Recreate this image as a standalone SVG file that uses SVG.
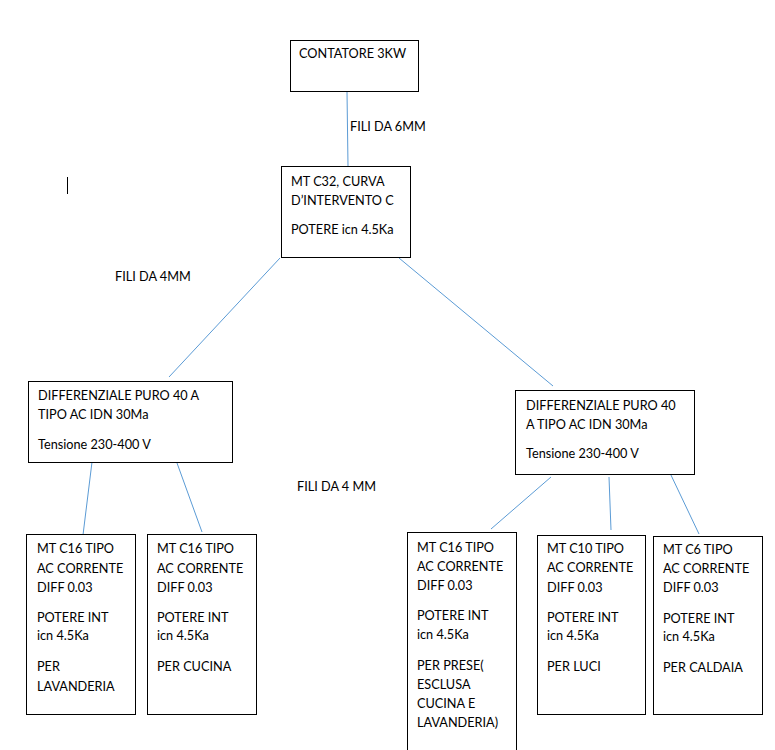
<svg xmlns="http://www.w3.org/2000/svg" width="775" height="750" viewBox="0 0 775 750">
<style>
.box{fill:#fff;stroke:#000;stroke-width:1}
.t{font-family:Lato,"Liberation Sans",sans-serif;font-size:12.7px;fill:#000}
.c{stroke:#5B9BD5;stroke-width:1;fill:none}
</style>
<rect width="775" height="750" fill="#fff"/>
<g id="connectors">
<line class="c" x1="347" y1="92" x2="348" y2="166"/>
<line class="c" x1="280" y1="258" x2="169" y2="377"/>
<line class="c" x1="399" y1="258" x2="553" y2="386"/>
<line class="c" x1="92" y1="462" x2="83" y2="535"/>
<line class="c" x1="177" y1="463" x2="202" y2="532"/>
<line class="c" x1="551" y1="477" x2="491" y2="529"/>
<line class="c" x1="609" y1="477" x2="611" y2="530"/>
<line class="c" x1="670" y1="473" x2="699" y2="534"/>
</g>
<g id="labels">
<text class="t" x="350" y="131">FILI DA 6MM</text>
<text class="t" x="115" y="281">FILI DA 4MM</text>
<text class="t" x="297" y="491">FILI DA 4 MM</text>
</g>
<line x1="67.5" y1="177" x2="67.5" y2="194" stroke="#000" stroke-width="1"/>
<g id="contatore">
<rect class="box" x="290.5" y="40.5" width="128" height="51"/>
<text class="t" x="299" y="58">CONTATORE 3KW</text>
</g>
<g id="mt-c32">
<rect class="box" x="281.5" y="166.5" width="129" height="91"/>
<text class="t" x="291" y="186">MT C32, CURVA</text>
<text class="t" x="291" y="205">D’INTERVENTO C</text>
<text class="t" x="291" y="234">POTERE icn 4.5Ka</text>
</g>
<g id="diff-left">
<rect class="box" x="28.5" y="381.5" width="204" height="81"/>
<text class="t" x="38" y="400">DIFFERENZIALE PURO 40 A</text>
<text class="t" x="38" y="419">TIPO AC IDN 30Ma</text>
<text class="t" x="38" y="449">Tensione 230-400 V</text>
</g>
<g id="diff-right">
<rect class="box" x="515.5" y="390.5" width="179" height="84"/>
<text class="t" x="526" y="410">DIFFERENZIALE PURO 40</text>
<text class="t" x="526" y="429">A TIPO AC IDN 30Ma</text>
<text class="t" x="526" y="458">Tensione 230-400 V</text>
</g>
<g id="mt-lavanderia">
<rect class="box" x="26.5" y="534.5" width="109" height="180"/>
<text class="t" x="37" y="553">MT C16 TIPO</text>
<text class="t" x="37" y="573">AC CORRENTE</text>
<text class="t" x="37" y="592">DIFF 0.03</text>
<text class="t" x="37" y="622">POTERE INT</text>
<text class="t" x="37" y="640">icn 4.5Ka</text>
<text class="t" x="37" y="671">PER</text>
<text class="t" x="37" y="691">LAVANDERIA</text>
</g>
<g id="mt-cucina">
<rect class="box" x="147.5" y="534.5" width="109" height="180"/>
<text class="t" x="157" y="553">MT C16 TIPO</text>
<text class="t" x="157" y="573">AC CORRENTE</text>
<text class="t" x="157" y="592">DIFF 0.03</text>
<text class="t" x="157" y="622">POTERE INT</text>
<text class="t" x="157" y="640">icn 4.5Ka</text>
<text class="t" x="157" y="671">PER CUCINA</text>
</g>
<g id="mt-prese">
<rect class="box" x="407.5" y="532.5" width="109" height="230"/>
<text class="t" x="417" y="552">MT C16 TIPO</text>
<text class="t" x="417" y="571">AC CORRENTE</text>
<text class="t" x="417" y="590">DIFF 0.03</text>
<text class="t" x="417" y="620">POTERE INT</text>
<text class="t" x="417" y="639">icn 4.5Ka</text>
<text class="t" x="417" y="670">PER PRESE(</text>
<text class="t" x="417" y="689">ESCLUSA</text>
<text class="t" x="417" y="708">CUCINA E</text>
<text class="t" x="417" y="727">LAVANDERIA)</text>
</g>
<g id="mt-luci">
<rect class="box" x="537.5" y="535.5" width="108" height="179"/>
<text class="t" x="547" y="553">MT C10 TIPO</text>
<text class="t" x="547" y="572">AC CORRENTE</text>
<text class="t" x="547" y="592">DIFF 0.03</text>
<text class="t" x="547" y="622">POTERE INT</text>
<text class="t" x="547" y="640">icn 4.5Ka</text>
<text class="t" x="547" y="671">PER LUCI</text>
</g>
<g id="mt-caldaia">
<rect class="box" x="653.5" y="536.5" width="109" height="178"/>
<text class="t" x="663" y="554">MT C6 TIPO</text>
<text class="t" x="663" y="573">AC CORRENTE</text>
<text class="t" x="663" y="592">DIFF 0.03</text>
<text class="t" x="663" y="623">POTERE INT</text>
<text class="t" x="663" y="641">icn 4.5Ka</text>
<text class="t" x="663" y="672">PER CALDAIA</text>
</g>
</svg>
